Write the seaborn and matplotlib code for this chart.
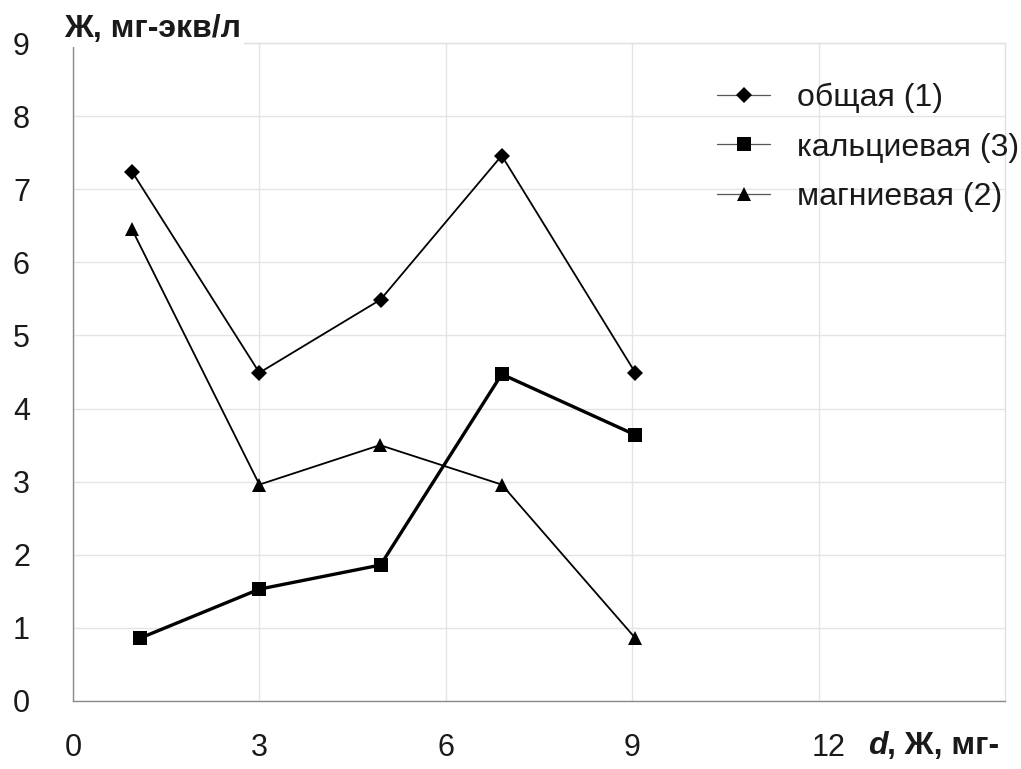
import matplotlib
matplotlib.use('Agg')
import matplotlib.pyplot as plt
import seaborn as sns
import pandas as pd
from matplotlib.lines import Line2D
from matplotlib.transforms import ScaledTranslation

# общая жёсткость (1)
x_total = [0.95, 3.0, 4.95, 6.9, 9.05]
y_total = [7.24, 4.49, 5.49, 7.46, 4.49]
# кальциевая (3)
x_calc = [1.08, 3.0, 4.95, 6.9, 9.05]
y_calc = [0.86, 1.53, 1.86, 4.47, 3.64]
# магниевая (2)
x_magn = [0.95, 3.0, 4.94, 6.9, 9.05]
y_magn = [6.45, 2.96, 3.5, 2.96, 0.86]

labels = ['общая (1)', 'кальциевая (3)', 'магниевая (2)']
markers = ['D', 's', '^']
x_ticks = [0, 3, 6, 9, 12]
y_ticks = list(range(10))

sns.set_style('white')
plt.rcParams['font.family'] = ['Liberation Sans', 'DejaVu Sans']
txt = '#1a1a1a'

fig = plt.figure(figsize=(10.21, 7.69), dpi=100)
ax = fig.add_axes([73 / 1021, 1 - 701 / 769, (1005 - 73) / 1021, (701 - 43) / 769])

series = [
    (x_total, y_total, 'D', 8, 1.3),
    (x_calc, y_calc, 's', 10, 2.4),
    (x_magn, y_magn, '^', 10.5, 1.3),
]
for (xs, ys, m, ms, lw), lab in zip(series, labels):
    df = pd.DataFrame({'x': xs, 'y': ys})
    sns.lineplot(data=df, x='x', y='y', ax=ax, sort=False, color='black',
                 linewidth=lw, marker=m, markersize=ms, markeredgewidth=0,
                 label=lab, legend=False, zorder=3)

ax.set_xlim(0, 15)
ax.set_ylim(0, 9)
ax.set_xticks(x_ticks)
ax.set_yticks(y_ticks)
ax.grid(True, color='#e4e4e4', linewidth=1.0, zorder=0)
ax.set_axisbelow(True)
for s in ['left', 'bottom']:
    ax.spines[s].set_color('#8a8a8a')
    ax.spines[s].set_linewidth(1.0)
for s in ['top', 'right']:
    ax.spines[s].set_color('#e0e0e0')
    ax.spines[s].set_linewidth(1.0)
ax.tick_params(axis='both', which='major', direction='out', length=7, width=1,
               color='#8a8a8a', labelsize=22, labelcolor=txt)
ax.tick_params(axis='y', pad=24)
ax.tick_params(axis='x', pad=16)
ax.set_xlabel('')
ax.set_ylabel('')

# the "12" label sits a little to the right in the original
last = ax.get_xticklabels()[-1]
last.set_transform(last.get_transform() + ScaledTranslation(0.10, 0, fig.dpi_scale_trans))

handles = [Line2D([0], [0], color='#555555', linewidth=0.9, marker=m,
                  markersize=s, markerfacecolor='black', markeredgewidth=0)
           for m, s in zip(markers, [8, 10, 10.5])]
fig.legend(handles, labels, loc='upper left', bbox_to_anchor=(717 / 1021, 1 - 83 / 769),
           frameon=False, fontsize=23, handlelength=1.66, handletextpad=0.85,
           labelspacing=0.6, borderaxespad=0, borderpad=0, labelcolor=txt)

fig.text(64 / 1021, 1 - 29 / 769, 'Ж, мг-экв/л', fontsize=23, fontweight='bold',
         color=txt, va='center', ha='left',
         bbox=dict(facecolor='white', edgecolor='none', pad=2), zorder=5)
fig.text(868 / 1021, 1 - 746 / 769, 'd', fontsize=23, fontweight='bold',
         fontstyle='italic', color=txt, va='center', ha='left')
fig.text(887 / 1021, 1 - 746 / 769, ', Ж, мг-', fontsize=23, fontweight='bold',
         color=txt, va='center', ha='left')

fig.savefig('out.png', dpi=100, facecolor='white')
